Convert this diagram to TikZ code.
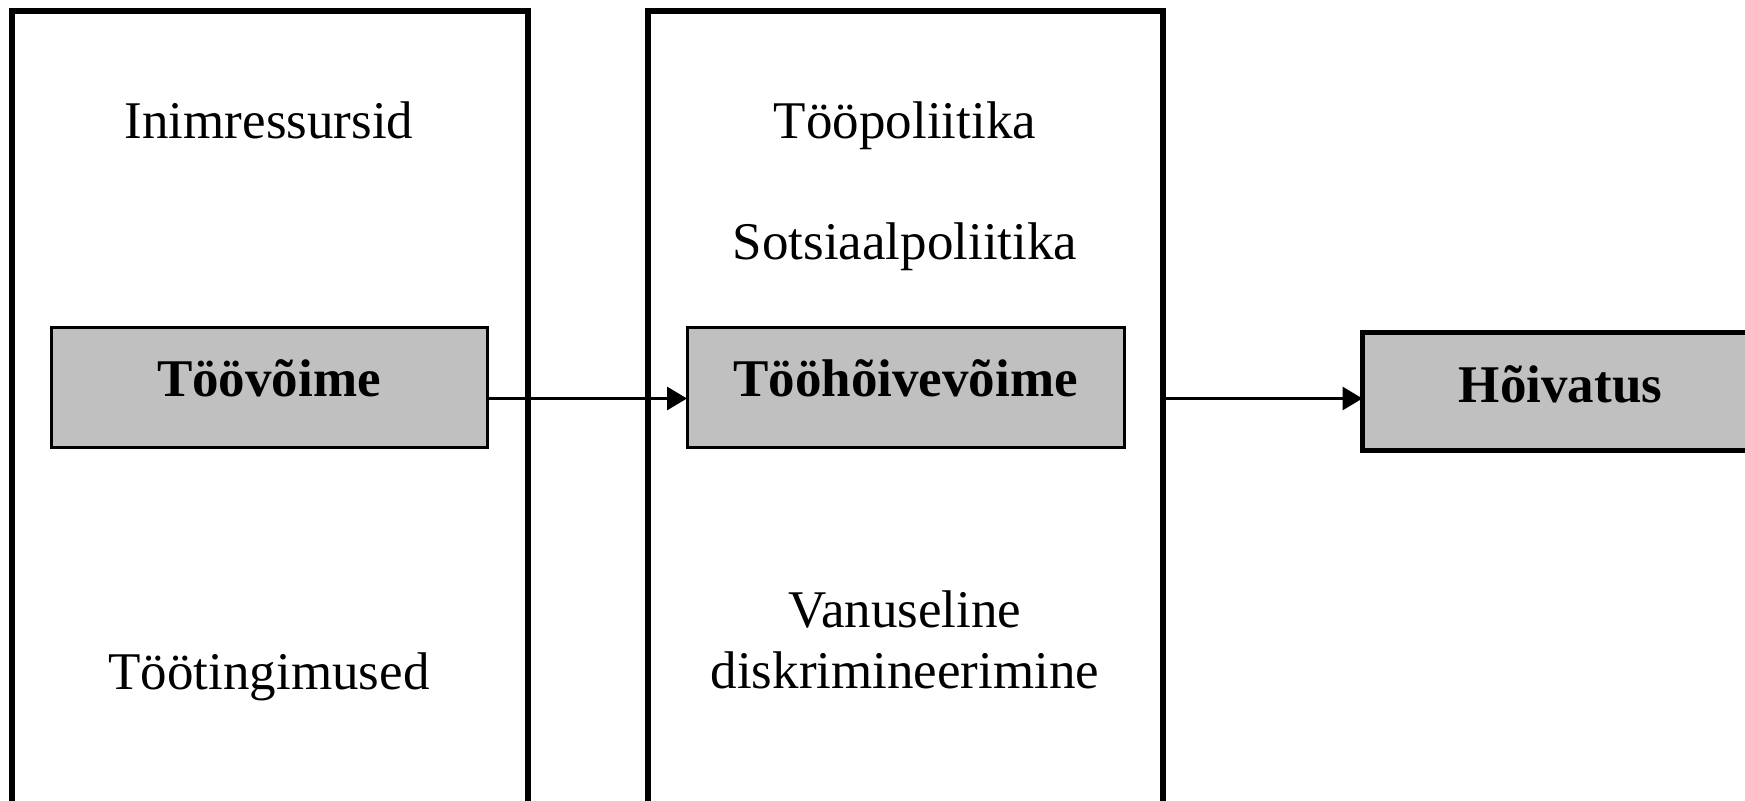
\documentclass[tikz,border=0pt]{standalone}
\usepackage{fontspec}
\setmainfont{Liberation Serif}
\usetikzlibrary{arrows.meta}
\definecolor{boxgrey}{HTML}{C0C0C0}
\begin{document}
\begin{tikzpicture}[x=0.5pt,y=-0.5pt,
  bigbox/.style={draw,line width=2.75pt,inner sep=0pt,outer sep=0pt,minimum width=258pt,minimum height=425pt,anchor=north west},
  greybox/.style={draw,fill=boxgrey,line width=1.5pt,inner sep=0pt,outer sep=0pt,minimum width=218pt,minimum height=60pt,
    font=\bfseries\fontsize{26.5}{30.5}\selectfont,text height=20pt,text depth=11pt},
  lbl/.style={anchor=base,inner sep=0pt,font=\fontsize{26.5}{30.5}\selectfont},
  conn/.style={line width=1.5pt,-{Triangle[length=10pt,width=11.5pt]}}]
\useasboundingbox (0,0) rectangle (1745,801);
\clip (0,0) rectangle (1745,801);
\node[bigbox] (left) at (12,11) {};
\node[bigbox,minimum width=257.5pt] (mid) at (648,11) {};
\node[greybox] (tv) at (269,388) {Töövõime};
\node[greybox,minimum width=218.5pt] (th) at (905.5,388) {Tööhõivevõime};
\node[greybox,line width=2.5pt,anchor=west,minimum width=198pt,minimum height=59pt,text height=21pt,text depth=10pt] (hv) at (1362.5,391.5) {Hõivatus};
\node[lbl] (ir) at (269,139) {Inimressursid};
\node[lbl] (tt) at (269,689) {Töötingimused};
\node[lbl] (tp) at (905,139) {Tööpoliitika};
\node[lbl] (sp) at (905,260) {Sotsiaalpoliitika};
\node[lbl] (vd1) at (905,627) {Vanuseline};
\node[lbl] (vd2) at (905,688) {diskrimineerimine};
\coordinate (ay) at (0,398.5);
\draw[conn] (tv.east |- ay) -- (th.west |- ay);
\draw[conn] (mid.east |- ay) -- (hv.west |- ay);
\end{tikzpicture}
\end{document}
